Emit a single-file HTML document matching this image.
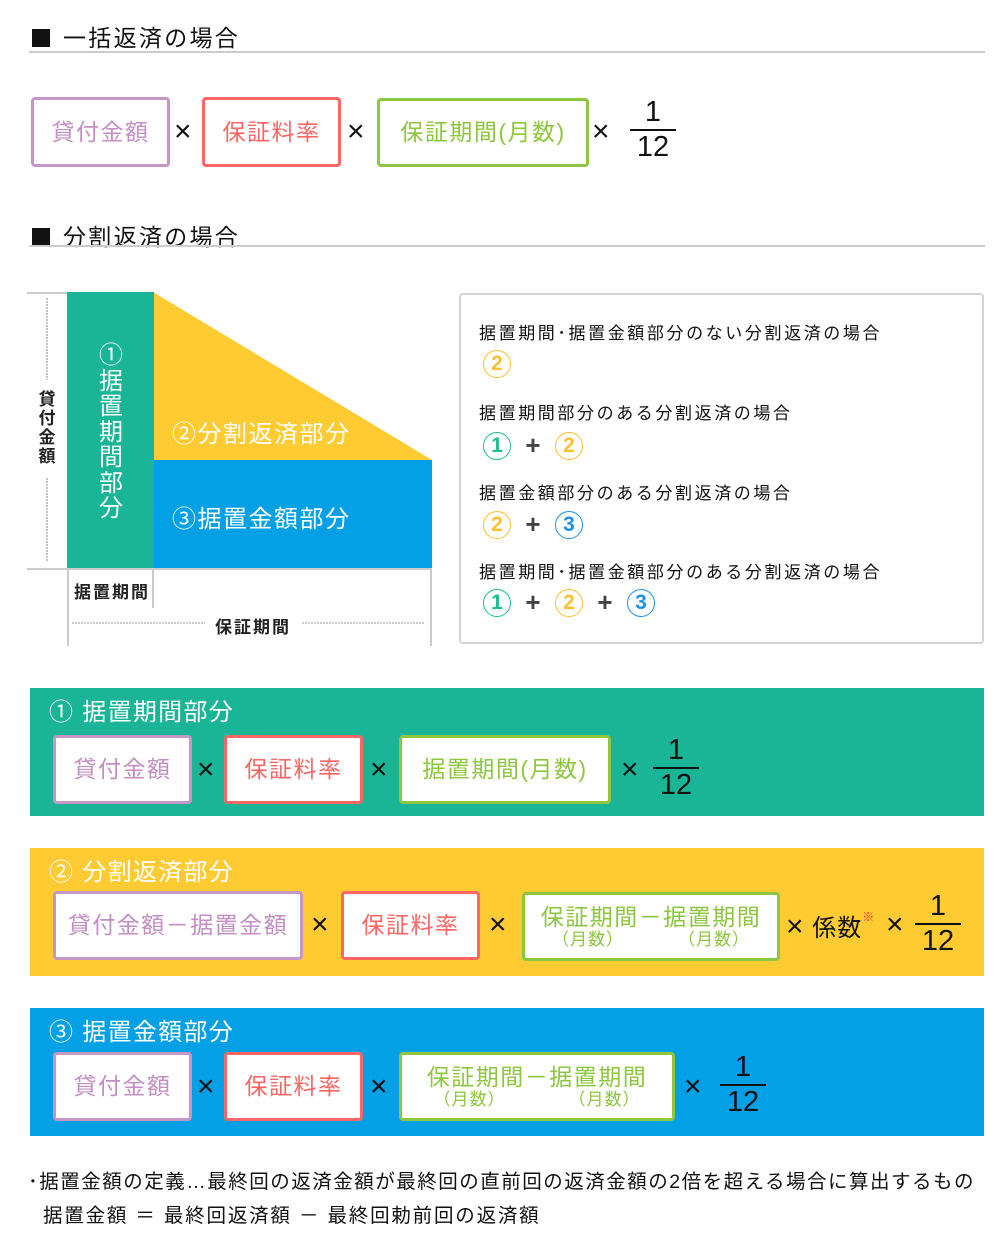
<!DOCTYPE html>
<html><head><meta charset="utf-8">
<style>
*{margin:0;padding:0;box-sizing:border-box}
body{width:1000px;height:1251px;background:#fff;position:relative;overflow:hidden;font-family:"Liberation Sans","Noto Sans CJK JP",sans-serif;color:#111}
.a{position:absolute}
.sq{position:absolute;left:32px;width:18px;height:18px;background:#111}
.h{position:absolute;left:63px;font-size:23px;line-height:28px;color:#111;white-space:nowrap;letter-spacing:2.3px}
.hl{position:absolute;left:29px;width:956px;height:2px;background:#ccc}
.box{position:absolute;background:#fff;border:3px solid;border-radius:4px;display:flex;align-items:center;justify-content:center;font-size:23px;letter-spacing:1.5px;white-space:nowrap;flex-direction:column;line-height:1.15}
.p{border-color:#c597c4;color:#c28ec3}
.r{border-color:#ff6666;color:#ff6464}
.g{border-color:#8dc63f;color:#8dc63f}
.sub{font-size:17px;display:flex;justify-content:space-around;width:100%;letter-spacing:1px}
.x{position:absolute;font-size:30px;line-height:30px;color:#111}
.fr{position:absolute;width:46px;text-align:center;font-size:29px;line-height:27px;color:#111}
.fr .n{height:27px}
.fr .ln{height:2px;background:#111;margin:3px 0}
.band{position:absolute;left:30px;width:954px}
.bt{position:absolute;left:49px;font-size:24px;color:#fff;white-space:nowrap;letter-spacing:1.3px}
.c{display:inline-block;width:28px;height:28px;border:1.5px solid;border-radius:50%;text-align:center;font-size:21px;line-height:25px;font-weight:bold;vertical-align:middle;letter-spacing:0}
.c1{color:#1cc08c;border-color:#1cc08c}
.c2{color:#fcc030;border-color:#fcc030}
.c3{color:#1f8ff0;border-color:#1f8ff0}
.pl{display:inline-block;width:44px;text-align:center;font-size:26px;font-weight:bold;color:#444;vertical-align:middle}
.rt{position:absolute;left:479px;font-size:17px;letter-spacing:2.6px;color:#111;white-space:nowrap}
.rc{position:absolute;left:483px}
</style></head><body>

<div class="sq" style="top:29px"></div>
<div class="h" style="top:24px">一括返済の場合</div>
<div class="hl" style="top:51px"></div>

<div class="box p" style="left:31px;top:97px;width:139px;height:70px">貸付金額</div>
<div class="x" style="left:174px;top:117px">×</div>
<div class="box r" style="left:202px;top:97px;width:139px;height:70px">保証料率</div>
<div class="x" style="left:347px;top:117px">×</div>
<div class="box g" style="left:377px;top:98px;width:212px;height:69px">保証期間(月数)</div>
<div class="x" style="left:592px;top:117px">×</div>
<div class="fr" style="left:630px;top:99px"><div class="n">1</div><div class="ln"></div><div class="n">12</div></div>

<div class="sq" style="top:228px"></div>
<div class="h" style="top:223px">分割返済の場合</div>
<div class="hl" style="top:245px"></div>

<svg class="a" style="left:0;top:280px" width="460" height="370">
<polygon points="153,12 432,180 432,290 153,290" fill="#fecb33"/>
<rect x="153" y="180" width="279" height="110" fill="#03a0e6"/>
<rect x="67" y="12" width="87" height="278" fill="#1ab596"/>
<line x1="27" y1="13" x2="67" y2="13" stroke="#ccc" stroke-width="2"/>
<line x1="27" y1="289" x2="432" y2="289" stroke="#ccc" stroke-width="2"/>
<line x1="68" y1="289" x2="68" y2="366" stroke="#ccc" stroke-width="2"/>
<line x1="153" y1="289" x2="153" y2="328" stroke="#ccc" stroke-width="2"/>
<line x1="431" y1="289" x2="431" y2="366" stroke="#ccc" stroke-width="2"/>
<line x1="47" y1="18" x2="47" y2="100" stroke="#888" stroke-width="1" stroke-dasharray="2,1"/>
<line x1="47" y1="198" x2="47" y2="282" stroke="#888" stroke-width="1" stroke-dasharray="2,1"/>
<line x1="72" y1="343" x2="205" y2="343" stroke="#999" stroke-width="1" stroke-dasharray="2,1"/>
<line x1="302" y1="343" x2="425" y2="343" stroke="#999" stroke-width="1" stroke-dasharray="2,1"/>
</svg>
<div class="a" style="left:37px;top:390px;width:20px;font-size:17px;line-height:19px;font-weight:bold;text-align:center;color:#222">貸<br>付<br>金<br>額</div>
<div class="a" style="left:96px;top:343px;width:30px;font-size:24px;line-height:25.5px;text-align:center;color:#fff">①<br>据<br>置<br>期<br>間<br>部<br>分</div>
<div class="a" style="left:172px;top:414px;font-size:24px;letter-spacing:1.5px;color:#fff;white-space:nowrap">②分割返済部分</div>
<div class="a" style="left:172px;top:499px;font-size:24px;letter-spacing:1.5px;color:#fff;white-space:nowrap">③据置金額部分</div>
<div class="a" style="left:74px;top:578px;font-size:17px;letter-spacing:2px;font-weight:bold;color:#222">据置期間</div>
<div class="a" style="left:215px;top:613px;font-size:17px;letter-spacing:2px;font-weight:bold;color:#222">保証期間</div>

<div class="a" style="left:459px;top:293px;width:525px;height:351px;border:2px solid #d4d4d4;border-radius:4px"></div>
<div class="rt" style="top:319px">据置期間･据置金額部分のない分割返済の場合</div>
<div class="rc" style="top:350px"><span class="c c2">2</span></div>
<div class="rt" style="top:399px">据置期間部分のある分割返済の場合</div>
<div class="rc" style="top:430px"><span class="c c1">1</span><span class="pl">+</span><span class="c c2">2</span></div>
<div class="rt" style="top:479px">据置金額部分のある分割返済の場合</div>
<div class="rc" style="top:509px"><span class="c c2">2</span><span class="pl">+</span><span class="c c3">3</span></div>
<div class="rt" style="top:558px">据置期間･据置金額部分のある分割返済の場合</div>
<div class="rc" style="top:587px"><span class="c c1">1</span><span class="pl">+</span><span class="c c2">2</span><span class="pl">+</span><span class="c c3">3</span></div>

<div class="band" style="top:688px;height:128px;background:#1ab596"></div>
<div class="bt" style="top:692px">① 据置期間部分</div>
<div class="box p" style="left:53px;top:735px;width:139px;height:69px">貸付金額</div>
<div class="x" style="left:197px;top:755px">×</div>
<div class="box r" style="left:224px;top:735px;width:139px;height:69px">保証料率</div>
<div class="x" style="left:370px;top:755px">×</div>
<div class="box g" style="left:399px;top:735px;width:212px;height:69px">据置期間(月数)</div>
<div class="x" style="left:621px;top:755px">×</div>
<div class="fr" style="left:653px;top:737px"><div class="n">1</div><div class="ln"></div><div class="n">12</div></div>

<div class="band" style="top:848px;height:128px;background:#fecb33"></div>
<div class="bt" style="top:852px">② 分割返済部分</div>
<div class="box p" style="left:53px;top:891px;width:250px;height:69px">貸付金額－据置金額</div>
<div class="x" style="left:311px;top:910px">×</div>
<div class="box r" style="left:341px;top:891px;width:139px;height:69px">保証料率</div>
<div class="x" style="left:489px;top:910px">×</div>
<div class="box g" style="left:522px;top:892px;width:258px;height:69px"><div>保証期間－据置期間</div><div class="sub"><span>（月数）</span><span>（月数）</span></div></div>
<div class="a" style="left:786px;top:908px;font-size:24px;letter-spacing:1px;color:#111;white-space:nowrap"><span style="font-size:30px;line-height:24px">×</span> 係数<span style="color:#f33;font-size:12px;vertical-align:top">※</span></div>
<div class="x" style="left:886px;top:910px">×</div>
<div class="fr" style="left:915px;top:893px"><div class="n">1</div><div class="ln"></div><div class="n">12</div></div>

<div class="band" style="top:1008px;height:128px;background:#03a0e6"></div>
<div class="bt" style="top:1012px">③ 据置金額部分</div>
<div class="box p" style="left:53px;top:1052px;width:139px;height:69px">貸付金額</div>
<div class="x" style="left:197px;top:1072px">×</div>
<div class="box r" style="left:224px;top:1052px;width:139px;height:69px">保証料率</div>
<div class="x" style="left:370px;top:1072px">×</div>
<div class="box g" style="left:399px;top:1052px;width:276px;height:69px"><div>保証期間－据置期間</div><div class="sub"><span>（月数）</span><span>（月数）</span></div></div>
<div class="x" style="left:684px;top:1072px">×</div>
<div class="fr" style="left:720px;top:1054px"><div class="n">1</div><div class="ln"></div><div class="n">12</div></div>

<div class="a" style="left:28px;top:1165px;font-size:19.5px;letter-spacing:1.5px;color:#111;white-space:nowrap">･据置金額の定義…最終回の返済金額が最終回の直前回の返済金額の2倍を超える場合に算出するもの</div>
<div class="a" style="left:43px;top:1199px;font-size:19.5px;letter-spacing:1.8px;color:#111;white-space:nowrap">据置金額 ＝ 最終回返済額 － 最終回勅前回の返済額</div>

</body></html>
